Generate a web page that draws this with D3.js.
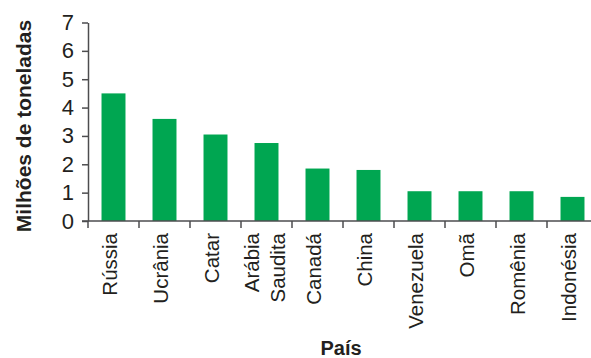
<!DOCTYPE html>
<html>
<head>
<meta charset="utf-8">
<script src="https://cdn.jsdelivr.net/npm/d3@7"></script>
<style>
  body { margin: 0; background: #fff; }
  text { font-family: "Liberation Sans", Arial, sans-serif; fill: #231f20; }
</style>
</head>
<body>
<div id="chart"></div>
<script>
// data
var paises = ["Rússia", "Ucrânia", "Catar", "Arábia Saudita", "Canadá", "China", "Venezuela", "Omã", "Romênia", "Indonésia"];
var toneladas = [4.5, 3.6, 3.05, 2.75, 1.85, 1.8, 1.05, 1.05, 1.05, 0.85];
var yTicks = [0, 1, 2, 3, 4, 5, 6, 7];

var widthSVG = 591;
var heightSVG = 358;

var svg = d3.select("#chart")
  .append("svg")
  .attr("width", widthSVG)
  .attr("height", heightSVG);

var x = d3.scaleBand()
  .domain(paises)
  .range([88, 598])
  .paddingInner(0.53)
  .paddingOuter(0.265);

var y = d3.scaleLinear()
  .domain([0, 7])
  .range([221, 22.5]);

var dados = paises.map(function(p, i) { return { pais: p, valor: toneladas[i] }; });

// bars
svg.selectAll("rect.bar")
  .data(dados)
  .enter()
  .append("rect")
  .attr("class", "bar")
  .attr("x", d => x(d.pais))
  .attr("y", d => y(d.valor))
  .attr("width", x.bandwidth())
  .attr("height", d => y(0) - y(d.valor))
  .attr("fill", "#00a651");

// y axis
var yAxis = svg.append("g")
  .attr("transform", "translate(88,0)")
  .call(d3.axisLeft(y).tickValues(yTicks).tickFormat(d3.format("d")).tickSize(6).tickSizeOuter(0).tickPadding(8));
yAxis.select(".domain").attr("stroke", "#4d4d4f").attr("stroke-width", 1.5);
yAxis.selectAll(".tick line").attr("stroke", "#4d4d4f").attr("stroke-width", 1.5);
yAxis.selectAll(".tick text")
  .attr("font-size", 22)
  .attr("font-family", "Liberation Sans, Arial, sans-serif")
  .attr("fill", "#231f20");

// x axis line
svg.append("line")
  .attr("x1", 82).attr("x2", widthSVG)
  .attr("y1", y(0)).attr("y2", y(0))
  .attr("stroke", "#4d4d4f")
  .attr("stroke-width", 1.5);

// ticks between the categories
var step = x.step();
svg.selectAll("line.xtick")
  .data(paises)
  .enter()
  .append("line")
  .attr("class", "xtick")
  .attr("x1", d => x(d) + x.bandwidth() / 2 - step / 2)
  .attr("x2", d => x(d) + x.bandwidth() / 2 - step / 2)
  .attr("y1", y(0))
  .attr("y2", y(0) + 7)
  .attr("stroke", "#4d4d4f")
  .attr("stroke-width", 1.5);

// category labels, rotated
var rotulos = svg.selectAll("g.rotulo")
  .data(paises)
  .enter()
  .append("g")
  .attr("class", "rotulo")
  .attr("transform", d => `translate(${x(d) + x.bandwidth() / 2}, 233) rotate(-90)`);

rotulos.each(function(d) {
  var linhas = d.split(" ");
  var g = d3.select(this);
  linhas.forEach(function(l, i) {
    var off = linhas.length > 1 ? (i === 0 ? -8 : 18) : 3;
    g.append("text")
      .attr("text-anchor", "end")
      .attr("y", off)
      .attr("font-size", 20.5)
      .text(l);
  });
});

// axis titles
svg.append("text")
  .attr("transform", "translate(31, 126) rotate(-90)")
  .attr("text-anchor", "middle")
  .attr("font-size", 21)
  .attr("font-weight", "bold")
  .text("Milhões de toneladas");

svg.append("text")
  .attr("x", 341)
  .attr("y", 355)
  .attr("text-anchor", "middle")
  .attr("font-size", 20)
  .attr("font-weight", "bold")
  .text("País");
</script>
</body>
</html>
